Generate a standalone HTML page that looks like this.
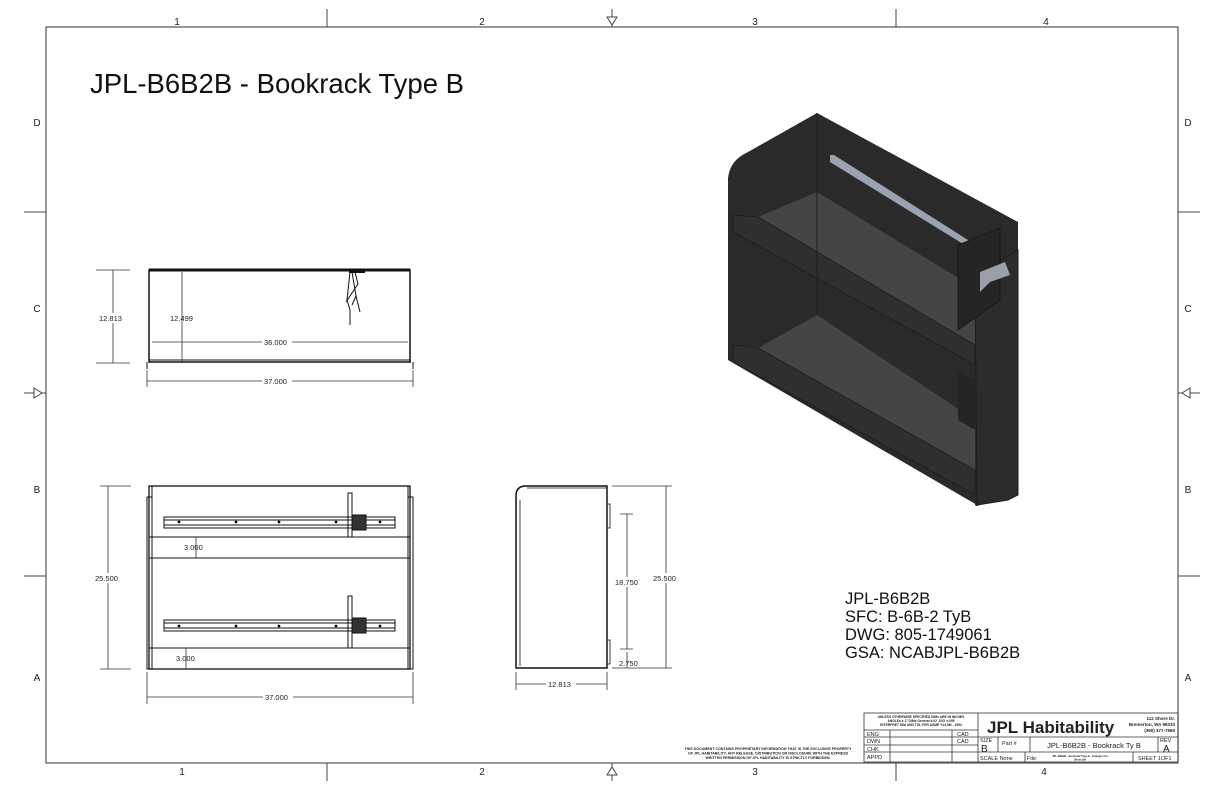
<!DOCTYPE html>
<html><head><meta charset="utf-8"><style>
html,body{margin:0;padding:0;background:#fff;}
svg{display:block;}
text{font-family:"Liberation Sans",sans-serif;}
</style></head><body>
<svg width="1224" height="792" viewBox="0 0 1224 792" xmlns="http://www.w3.org/2000/svg">
<rect width="1224" height="792" fill="#fff"/>
<!-- border -->
<rect x="46" y="27" width="1132" height="736" fill="none" stroke="#555" stroke-width="1.2"/>
<g stroke="#444" stroke-width="1">
<line x1="327" y1="9" x2="327" y2="27"/><line x1="896" y1="9" x2="896" y2="27"/>
<line x1="327" y1="763" x2="327" y2="781"/><line x1="896" y1="763" x2="896" y2="781"/>
<line x1="24" y1="212" x2="46" y2="212"/><line x1="24" y1="576" x2="46" y2="576"/>
<line x1="1178" y1="212" x2="1200" y2="212"/><line x1="1178" y1="576" x2="1200" y2="576"/>
<line x1="612" y1="9" x2="612" y2="27"/><line x1="612" y1="763" x2="612" y2="781"/>
<line x1="24" y1="393" x2="46" y2="393"/><line x1="1178" y1="393" x2="1200" y2="393"/>
</g>
<g fill="#fff" stroke="#444" stroke-width="1">
<polygon points="607,17 617,17 612,25"/><polygon points="607,775 617,775 612,767"/>
<polygon points="34,388 34,398 42,393"/><polygon points="1190,388 1190,398 1182,393"/>
</g>
<g font-size="10" fill="#222" text-anchor="middle">
<text x="177" y="25">1</text><text x="482" y="25">2</text><text x="755" y="25">3</text><text x="1046" y="25">4</text>
<text x="182" y="775">1</text><text x="482" y="775">2</text><text x="755" y="775">3</text><text x="1044" y="775">4</text>
<text x="37" y="126">D</text><text x="37" y="312">C</text><text x="37" y="493">B</text><text x="37" y="681">A</text>
<text x="1188" y="126">D</text><text x="1188" y="312">C</text><text x="1188" y="493">B</text><text x="1188" y="681">A</text>
</g>
<text x="90" y="93" font-size="27.5" fill="#111">JPL-B6B2B - Bookrack Type B</text>

<!-- FRONT VIEW -->
<g stroke="#111" fill="none">
<rect x="149" y="270" width="261" height="92" stroke-width="1.5"/>
<line x1="149" y1="270" x2="410" y2="270" stroke-width="3"/>
<line x1="149" y1="360" x2="410" y2="360" stroke-width="1"/>
<path d="M147 362 V369 M413 362 V369 M149 362 H411" stroke-width="1"/>
<path d="M350 272 L347 300 L350 310 L350 325 M352 272 L356 296 L352 305 M355 272 L358 284 L346 302 M356 296 L360 312" stroke-width="1"/>
<line x1="349" y1="272" x2="365" y2="272" stroke-width="2"/>
</g>
<g stroke="#333" stroke-width="0.8" fill="none">
<path d="M113 270 V363 M96 270 H130 M96 363 H130"/>
<path d="M182 272 V363"/>
<path d="M152 342 H408"/>
<path d="M147 370 V387 M413 370 V387 M147 381 H413"/>
</g>
<g font-size="7.5" fill="#222">
<rect x="98" y="313" width="30" height="10" fill="#fff"/>
<text x="99" y="321">12.813</text>
<text x="170" y="321">12.499</text>
<rect x="262" y="338" width="30" height="9" fill="#fff"/><text x="264" y="345">36.000</text>
<rect x="262" y="377" width="30" height="9" fill="#fff"/><text x="264" y="384">37.000</text>
</g>

<!-- BOTTOM-LEFT VIEW -->
<g stroke="#111" fill="none" stroke-width="1">
<rect x="149" y="486" width="261" height="183" stroke-width="1.3"/>
<rect x="147" y="497" width="5" height="172"/>
<rect x="408" y="497" width="5" height="172"/>
<line x1="152" y1="486" x2="152" y2="669"/><line x1="408" y1="486" x2="408" y2="669"/>
<rect x="149" y="537" width="261" height="21"/>
<rect x="149" y="648" width="261" height="21"/>
<rect x="164" y="517" width="231" height="11"/><line x1="164" y1="520" x2="395" y2="520"/><line x1="164" y1="525" x2="395" y2="525"/>
<rect x="164" y="620" width="231" height="11"/><line x1="164" y1="623" x2="395" y2="623"/><line x1="164" y1="628" x2="395" y2="628"/>
<rect x="348" y="493" width="4" height="44"/>
<rect x="348" y="596" width="4" height="52"/>
<rect x="352" y="515" width="14" height="15" fill="#333"/>
<rect x="352" y="618" width="14" height="15" fill="#333"/>
</g>
<g fill="#111">
<circle cx="179" cy="522" r="1.4"/><circle cx="236" cy="522" r="1.4"/><circle cx="279" cy="522" r="1.4"/><circle cx="336" cy="522" r="1.4"/><circle cx="380" cy="522" r="1.4"/>
<circle cx="179" cy="626" r="1.4"/><circle cx="236" cy="626" r="1.4"/><circle cx="279" cy="626" r="1.4"/><circle cx="336" cy="626" r="1.4"/><circle cx="380" cy="626" r="1.4"/>
</g>
<g stroke="#333" stroke-width="0.8" fill="none">
<path d="M108 486 V669 M100 486 H131 M100 669 H131"/>
<path d="M147 672 V704 M413 672 V704 M147 697 H413"/>
<path d="M196 537 V558 M186 648 V669"/>
</g>
<g font-size="7.5" fill="#222">
<rect x="94" y="573" width="30" height="10" fill="#fff"/><text x="95" y="581">25.500</text>
<text x="184" y="550">3.000</text><text x="176" y="661">3.000</text>
<rect x="263" y="693" width="30" height="9" fill="#fff"/><text x="265" y="700">37.000</text>
</g>

<!-- SIDE VIEW -->
<g stroke="#111" fill="none">
<path d="M516 668 V496 Q516 486 526 486 H607 V668 Z" stroke-width="1.5"/>
<line x1="520" y1="500" x2="520" y2="666" stroke-width="0.8"/>
<line x1="527" y1="488" x2="607" y2="488" stroke-width="0.8"/>
<rect x="607" y="504" width="3" height="24" stroke-width="0.8"/>
<rect x="607" y="640" width="3" height="24" stroke-width="0.8"/>
</g>
<g stroke="#333" stroke-width="0.8" fill="none">
<path d="M612 486 H672 M612 668 H672 M666 486 V668"/>
<path d="M620 514 H633 M620 649 H633 M627 514 V649 M627 652 V668"/>
<path d="M516 672 V690 M607 672 V690 M516 684 H607"/>
</g>
<g font-size="7.5" fill="#222">
<rect x="652" y="573" width="30" height="10" fill="#fff"/><text x="653" y="581">25.500</text>
<rect x="614" y="577" width="28" height="10" fill="#fff"/><text x="615" y="585">18.750</text>
<text x="619" y="666">2.750</text>
<rect x="546" y="680" width="30" height="9" fill="#fff"/><text x="548" y="687">12.813</text>
</g>

<!-- ISO VIEW -->
<g>
<path d="M728 360 L728 178 Q730 160 748 152 L817 113 L1018 222 L1018 495 L1008 500 L977 505 Z" fill="#2a2a2a"/>
<polygon points="758,217 817,192 975,288 975,345" fill="#454545"/>
<polygon points="758,348 817,315 975,420 975,470" fill="#454545"/>
<polygon points="733,215 758,217 975,345 975,365 733,232" fill="#2f2f2f" stroke="#1c1c1c" stroke-width="0.8"/>
<polygon points="733,345 758,348 975,470 975,495 733,362" fill="#2f2f2f" stroke="#1c1c1c" stroke-width="0.8"/>
<line x1="817" y1="113" x2="817" y2="315" stroke="#1e1e1e" stroke-width="1"/>
<polygon points="830,155 834,155 968,240 968,247 830,162" fill="#9aa3b0"/>
<polygon points="975,275 1018,250 1018,495 1008,500 977,505" fill="#2c2c2c" stroke="#1e1e1e" stroke-width="1"/>
<polygon points="958,245 1000,228 1000,300 958,330" fill="#252525" stroke="#151515" stroke-width="0.8"/>
<path d="M980 272 L1005 262 L1010 275 L990 282 L980 292 Z" fill="#9aa0aa"/>
<polygon points="958,372 975,380 975,430 958,420" fill="#242424"/>
<circle cx="977" cy="504" r="2" fill="#222"/>
</g>

<g font-size="16.5" fill="#111">
<text x="845" y="604">JPL-B6B2B</text>
<text x="845" y="622">SFC:  B-6B-2 TyB</text>
<text x="845" y="640">DWG:  805-1749061</text>
<text x="845" y="658">GSA:  NCABJPL-B6B2B</text>
</g>

<!-- proprietary note -->
<g font-size="3.6" font-weight="bold" fill="#222" text-anchor="middle">
<text x="768" y="750">THIS DOCUMENT CONTAINS PROPRIETARY INFORMATION THAT IS THE EXCLUSIVE PROPERTY</text>
<text x="768" y="754.5">OF JPL HABITABILITY.  ANY RELEASE, DISTRIBUTION OR DISCLOSURE WITH THE EXPRESS</text>
<text x="768" y="759">WRITTEN PERMISSION OF JPL HABITABILITY IS STRICTLY FORBIDDEN.</text>
</g>

<!-- TITLE BLOCK -->
<g stroke="#333" stroke-width="0.8" fill="none">
<rect x="864" y="713" width="314" height="49"/>
<line x1="978" y1="713" x2="978" y2="762"/>
<line x1="864" y1="730" x2="978" y2="730"/>
<line x1="864" y1="737" x2="978" y2="737"/>
<line x1="864" y1="745" x2="978" y2="745"/>
<line x1="864" y1="752" x2="978" y2="752"/>
<line x1="890" y1="730" x2="890" y2="762"/>
<line x1="952" y1="730" x2="952" y2="762"/>
<line x1="978" y1="737" x2="1178" y2="737"/>
<line x1="978" y1="752" x2="1178" y2="752"/>
<line x1="998" y1="737" x2="998" y2="752"/>
<line x1="1030" y1="737" x2="1030" y2="752"/>
<line x1="1158" y1="737" x2="1158" y2="752"/>
<line x1="1025" y1="752" x2="1025" y2="762"/>
<line x1="1133" y1="752" x2="1133" y2="762"/>
</g>
<g fill="#222">
<text x="921" y="718" font-size="3.3" font-weight="bold" text-anchor="middle">UNLESS OTHERWISE SPECIFIED DIMs ARE IN INCHES</text>
<text x="921" y="722" font-size="3.3" font-weight="bold" text-anchor="middle">ANGLEs ± 1°  DIMs  General ±.02  .XXX ±.005</text>
<text x="921" y="726" font-size="3.3" font-weight="bold" text-anchor="middle">INTERPRET DIM AND TOL PER ASME Y14.5M - 1994</text>
<text x="987" y="733" font-size="17" font-weight="bold">JPL Habitability</text>
<text x="1175" y="720" font-size="4.5" font-weight="bold" text-anchor="end">112  Shore Dr.</text>
<text x="1175" y="726" font-size="4.5" font-weight="bold" text-anchor="end">Bremerton, WA 98310</text>
<text x="1175" y="732" font-size="4.5" font-weight="bold" text-anchor="end">(360) 377-7660</text>
<g font-size="5.5">
<text x="867" y="736">ENG</text><text x="867" y="743">DWN</text><text x="867" y="751">CHK</text><text x="867" y="759">APPD</text>
<text x="957" y="736">CAD</text><text x="957" y="743">CAD</text>
<text x="980" y="742">SIZE</text><text x="1002" y="745">Part #</text>
<text x="980" y="760">SCALE  None</text><text x="1027" y="760">File:</text>
<text x="1138" y="760">SHEET 1OF1</text>
<text x="1160" y="742">REV</text>
</g>
<text x="981" y="752" font-size="10">B</text>
<text x="1163" y="752" font-size="10">A</text>
<text x="1094" y="748" font-size="7.5" text-anchor="middle">JPL-B6B2B - Bookrack Ty B</text>
<text x="1080" y="757" font-size="2.6" font-weight="bold" text-anchor="middle">JPL-B6B2B - Bookrack Type B - Grainger Cut</text>
<text x="1080" y="760.5" font-size="2.6" font-weight="bold" text-anchor="middle">Sheet.dwl</text>
</g>
</svg>
</body></html>
